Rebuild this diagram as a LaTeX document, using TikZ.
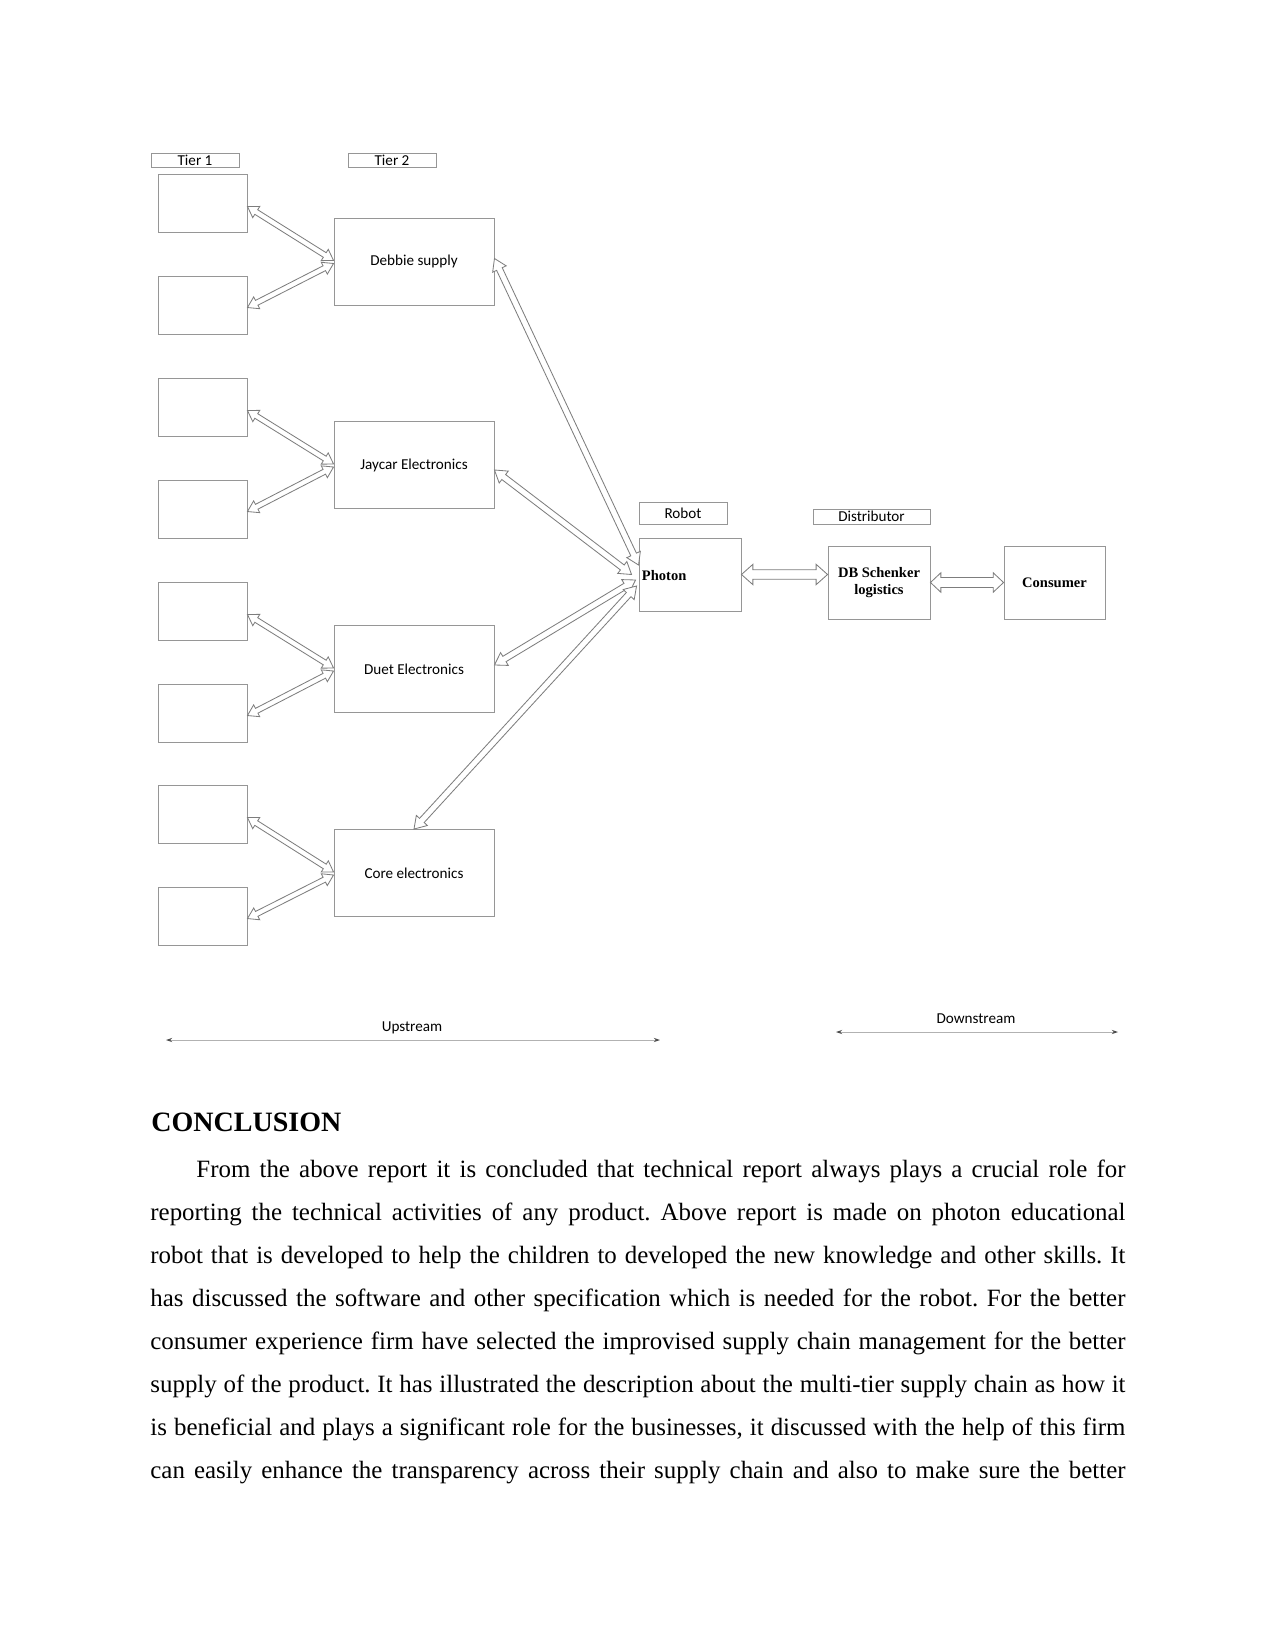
\documentclass[tikz,border=0pt]{standalone}
\usepackage{fontspec}
\setmainfont{Liberation Serif}
\newfontfamily\carl{Carlito}
\usetikzlibrary{calc,arrows.meta}
\frenchspacing
\def\px{*0.4818pt}
\definecolor{boxgray}{RGB}{150,150,150}
\definecolor{arrgray}{RGB}{125,125,125}
\newcommand{\hollowarrow}[5]{%
  \draw[harrow] (#1)
  -- ($(#1)!#5!(#2)!#4!90:(#2)$)
  -- ($(#1)!#5!(#2)!#3!90:(#2)$)
  -- ($(#2)!#5!(#1)!#3!-90:(#1)$)
  -- ($(#2)!#5!(#1)!#4!-90:(#1)$)
  -- (#2)
  -- ($(#2)!#5!(#1)!#4!90:(#1)$)
  -- ($(#2)!#5!(#1)!#3!90:(#1)$)
  -- ($(#1)!#5!(#2)!#3!-90:(#2)$)
  -- ($(#1)!#5!(#2)!#4!-90:(#2)$)
  -- cycle;}
\begin{document}
\begin{tikzpicture}[x=0.4818pt,y=-0.4818pt,
  box/.style={draw=boxgray, line width=0.45pt, inner sep=0pt, fill=white},
  tone/.style={box, minimum width=89\px, minimum height=58\px},
  ttwo/.style={box, minimum width=160\px, minimum height=87\px, font=\carl\fontsize{7.3}{8.5}\selectfont},
  lab/.style={box, font=\carl\fontsize{7.3}{8}\selectfont},
  bbox/.style={box, minimum width=102\px, minimum height=73\px, font=\bfseries\fontsize{7}{8.2}\selectfont, align=center},
  harrow/.style={draw=arrgray, line width=0.4pt, fill=white, line join=miter},
  flow/.style={draw=black!30, line width=0.4pt, {Stealth[length=3pt,width=2pt,black!70]}-{Stealth[length=3pt,width=2pt,black!70]}},
  sans/.style={font=\carl\fontsize{7.3}{8}\selectfont, inner sep=0pt},
  txt/.style={anchor=base west, inner sep=0pt, font=\fontsize{12}{14}\selectfont}]
\useasboundingbox (0,0) rectangle (1275,1650);
\fill[white] (0,0) rectangle (1275,1650);

% header labels
\node[lab, minimum width=88\px, minimum height=14\px] (tier1) at (195,160) {Tier 1};
\node[lab, minimum width=88\px, minimum height=14\px] (tier2) at (392,160) {Tier 2};
\node[lab, minimum width=88\px, minimum height=22\px] (robot) at (683,513) {Robot};
\node[lab, minimum width=117\px, minimum height=15\px] (distr) at (871.5,516.5) {Distributor};

% tier 1 boxes
\node[tone] (a1) at (202.5,203) {};
\node[tone] (a2) at (202.5,305) {};
\node[tone] (b1) at (202.5,407) {};
\node[tone] (b2) at (202.5,509) {};
\node[tone] (c1) at (202.5,611) {};
\node[tone] (c2) at (202.5,713) {};
\node[tone] (d1) at (202.5,814) {};
\node[tone] (d2) at (202.5,916) {};

% tier 2 boxes
\node[ttwo] (deb) at (414,261.5) {Debbie supply};
\node[ttwo] (jay) at (414,465) {Jaycar Electronics};
\node[ttwo] (duet) at (414,669) {Duet Electronics};
\node[ttwo] (core) at (414,873) {Core electronics};

% right boxes
\node[box, minimum width=102\px, minimum height=73\px] (photon) at (690,574.5) {};
\node[anchor=west, inner sep=0pt, font=\bfseries\fontsize{7}{8.2}\selectfont] (photontxt) at ($(photon.west)+(3,1)$) {Photon};
\node[bbox] (db) at (879,582.5) {DB Schenker\\logistics};
\node[bbox, minimum width=101\px] (cons) at (1054.5,582.5) {Consumer};

% tier1 - tier2 arrows
\foreach \ta/\tb/\tt in {a1/a2/deb, b1/b2/jay, c1/c2/duet, d1/d2/core}{
  \coordinate (\ta e) at ($(\ta.north east)+(0,33)$);
  \coordinate (\tb e) at ($(\tb.north east)+(0,32)$);
  \coordinate (\tt U) at ($(\tt.west)+(0,-1)$);
  \coordinate (\tt L) at ($(\tt.west)+(0,2)$);
  \hollowarrow{\ta e}{\tt U}{1.3pt}{3.2pt}{5pt}
  \hollowarrow{\tt L}{\tb e}{1.3pt}{3.2pt}{5pt}
}

% tier2 - photon arrows
\coordinate (debE) at ($(deb.east)+(0,-3)$);
\coordinate (jayE) at ($(jay.east)+(0,5)$);
\coordinate (duetE) at ($(duet.east)+(0,-4)$);
\coordinate (coreN) at (core.north);
\coordinate (phA) at ($(photon.west)+(0,-9.5)$);
\coordinate (phB) at ($(photon.west)+(-7,0)$);
\coordinate (phC) at ($(photon.west)+(-3,5.5)$);
\coordinate (phD) at ($(photon.west)+(-2,11.5)$);
\hollowarrow{phA}{debE}{1.5pt}{3.6pt}{5.6pt}
\hollowarrow{phB}{jayE}{1.5pt}{3.6pt}{5.6pt}
\hollowarrow{phC}{duetE}{1.5pt}{3.6pt}{5.6pt}
\hollowarrow{phD}{coreN}{1.5pt}{3.6pt}{5.6pt}

% photon - distributor - consumer
\coordinate (phE) at (photon.east);
\coordinate (dbW) at (photon.east -| db.west);
\coordinate (dbE) at (db.east);
\coordinate (consW) at (cons.west);
\hollowarrow{phE}{dbW}{2.3pt}{4.9pt}{5.5pt}
\hollowarrow{dbE}{consW}{2.4pt}{4.7pt}{5pt}

% upstream / downstream
\coordinate (upL) at (166,1040);
\coordinate (upR) at (660,1040);
\coordinate (dnL) at (836,1032);
\coordinate (dnR) at (1118,1032);
\draw[flow] (upL) -- (upR);
\draw[flow] (dnL) -- (dnR);
\node[sans] (upst) at (412,1028) {Upstream};
\node[sans] (dnst) at (976,1019) {Downstream};

% text
\node[anchor=base west, inner sep=0pt, font=\bfseries\fontsize{13.5}{16}\selectfont] (concl) at (151,1131) {CONCLUSION};
\node[txt] (p1) at (196,1177) {\makebox[447.6pt][s]{From the above report it is concluded that technical report always plays a crucial role for}};
\node[txt] (p2) at (150,1220) {\makebox[469.8pt][s]{reporting the technical activities of any product. Above report is made on photon educational}};
\node[txt] (p3) at (150,1263) {\makebox[469.8pt][s]{robot that is developed to help the children to developed the new knowledge and other skills. It}};
\node[txt] (p4) at (150,1306) {\makebox[469.8pt][s]{has discussed the software and other specification which is needed for the robot. For the better}};
\node[txt] (p5) at (150,1349) {\makebox[469.8pt][s]{consumer experience firm have selected the improvised supply chain management for the better}};
\node[txt] (p6) at (150,1392) {\makebox[469.8pt][s]{supply of the product. It has illustrated the description about the multi-tier supply chain as how it}};
\node[txt] (p7) at (150,1435) {\makebox[469.8pt][s]{is beneficial and plays a significant role for the businesses, it discussed with the help of this firm}};
\node[txt] (p8) at (150,1478) {\makebox[469.8pt][s]{can easily enhance the transparency across their supply chain and also to make sure the better}};
\end{tikzpicture}
\end{document}
